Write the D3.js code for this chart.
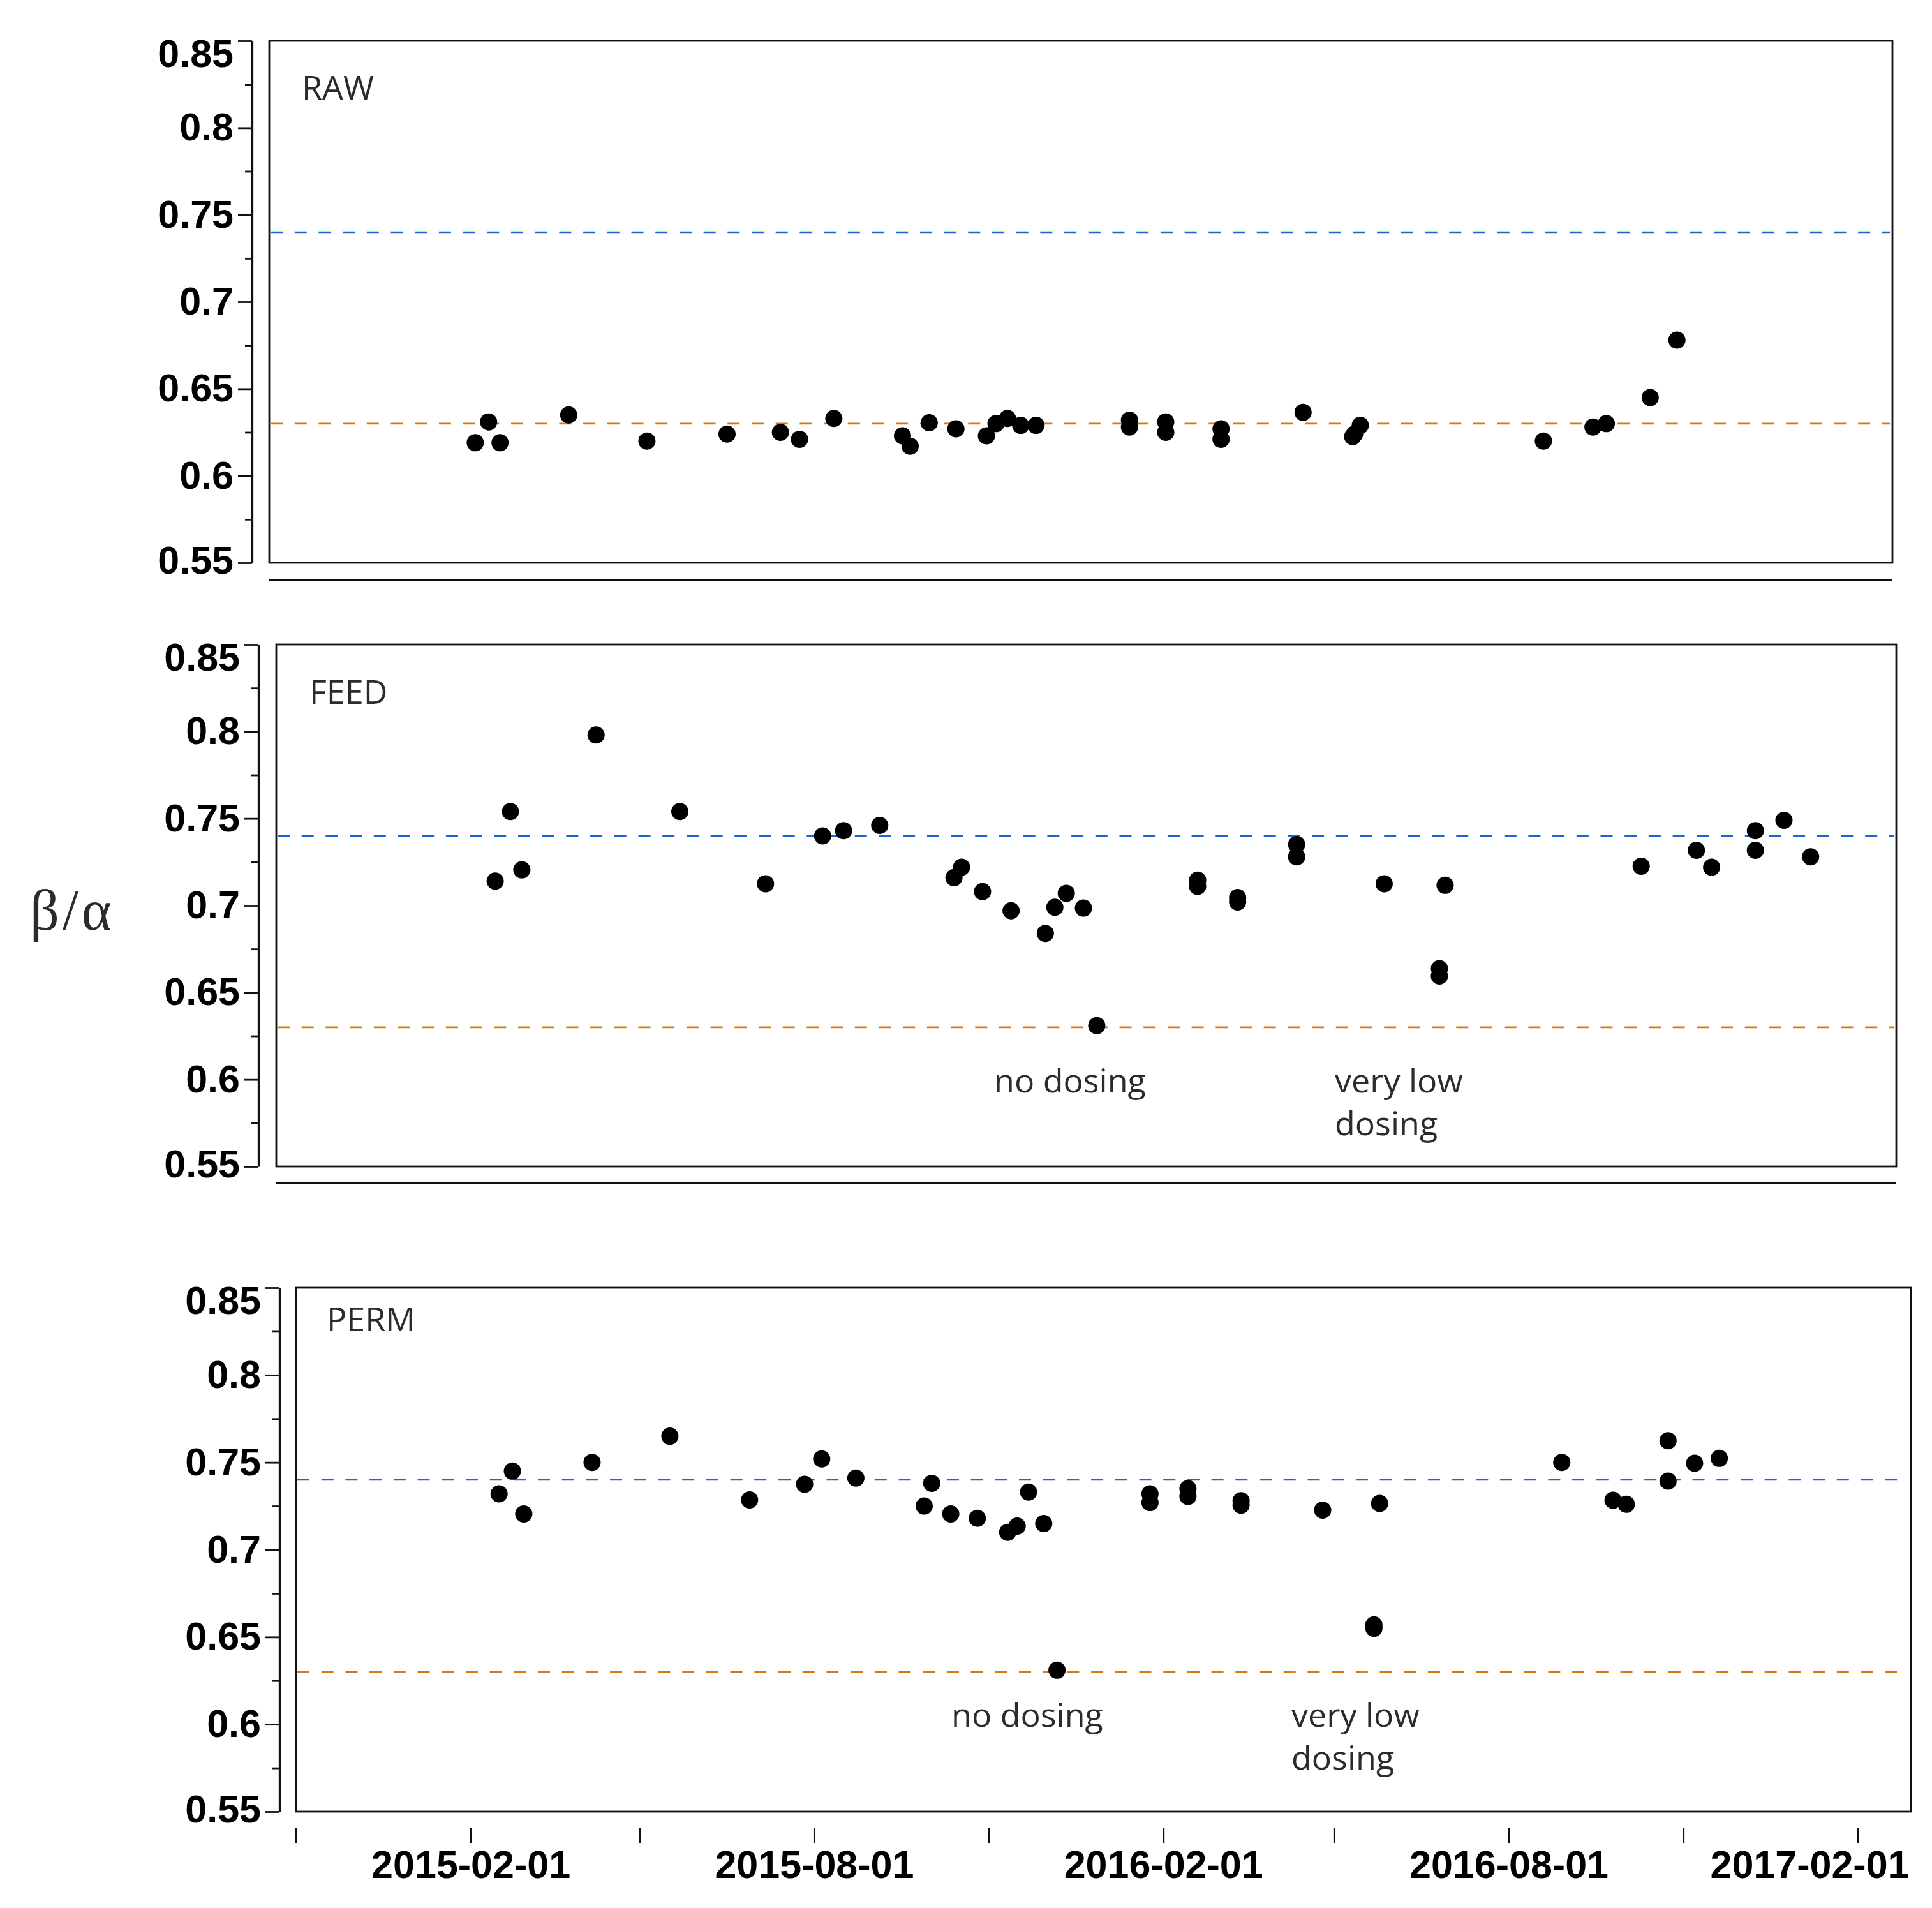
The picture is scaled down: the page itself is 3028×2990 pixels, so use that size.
<!DOCTYPE html>
<html>
<head>
<meta charset="utf-8">
<script src="https://cdn.jsdelivr.net/npm/d3@7"></script>
<style>
  html, body { margin: 0; padding: 0; background: #ffffff; }
  svg { display: block; }
</style>
</head>
<body>
<svg id="chart" width="3028" height="2990"></svg>
<script>
// ---------------- DATA ----------------
const panelNames = ["RAW", "FEED", "PERM"];

const rawDates = ["2015-02-17","2015-02-24","2015-03-02","2015-04-07","2015-05-18","2015-06-29","2015-07-27","2015-08-06","2015-08-24","2015-09-29","2015-10-03","2015-10-13","2015-10-27","2015-11-12","2015-11-17","2015-11-23","2015-11-30","2015-12-08","2016-01-26","2016-01-26","2016-02-14","2016-02-14","2016-03-14","2016-03-14","2016-04-26","2016-05-22","2016-05-23","2016-05-26","2016-08-30","2016-09-25","2016-10-02","2016-10-25","2016-11-08"];
const rawValues = [0.619,0.631,0.619,0.635,0.620,0.624,0.625,0.621,0.633,0.623,0.617,0.6305,0.627,0.623,0.630,0.633,0.629,0.629,0.632,0.628,0.631,0.625,0.627,0.621,0.6365,0.6225,0.624,0.629,0.620,0.628,0.630,0.645,0.678];

const feedDates = ["2015-02-24","2015-03-04","2015-03-10","2015-04-18","2015-06-01","2015-07-16","2015-08-15","2015-08-26","2015-09-14","2015-10-23","2015-10-27","2015-11-07","2015-11-22","2015-12-10","2015-12-15","2015-12-21","2015-12-30","2016-01-06","2016-02-28","2016-02-28","2016-03-20","2016-03-20","2016-04-20","2016-04-20","2016-06-05","2016-07-07","2016-07-04","2016-07-04","2016-10-18","2016-11-16","2016-11-24","2016-12-17","2016-12-17","2017-01-01","2017-01-15"];
const feedValues = [0.714,0.754,0.7205,0.798,0.754,0.7125,0.740,0.743,0.746,0.716,0.722,0.708,0.697,0.684,0.699,0.707,0.6985,0.631,0.7146,0.711,0.7046,0.702,0.735,0.728,0.7125,0.7116,0.6637,0.6595,0.7226,0.7317,0.722,0.743,0.7317,0.749,0.728];

const permDates = ["2015-02-16","2015-02-23","2015-03-01","2015-04-06","2015-05-17","2015-06-28","2015-07-27","2015-08-05","2015-08-23","2015-09-28","2015-10-02","2015-10-12","2015-10-26","2015-11-11","2015-11-16","2015-11-22","2015-11-30","2015-12-07","2016-01-25","2016-01-25","2016-02-14","2016-02-14","2016-03-13","2016-03-13","2016-04-25","2016-05-25","2016-05-22","2016-05-22","2016-08-29","2016-09-25","2016-10-02","2016-10-24","2016-10-24","2016-11-07","2016-11-20"];
const permValues = [0.732,0.745,0.7205,0.750,0.765,0.7285,0.7375,0.752,0.741,0.725,0.738,0.7205,0.718,0.710,0.7135,0.733,0.715,0.631,0.732,0.727,0.735,0.7305,0.728,0.7255,0.7227,0.7265,0.657,0.655,0.750,0.7283,0.726,0.7624,0.7393,0.7495,0.7523];

const refValues = [0.74, 0.63];            // blue, orange dashed reference lines
const yDomain = [0.55, 0.85];
const yTickValues = [0.55, 0.6, 0.65, 0.7, 0.75, 0.8, 0.85];
const yMinorTickValues = [0.575, 0.625, 0.675, 0.725, 0.775, 0.825];
const xDomain = ["2014-11-01", "2017-03-01"];
const xTickDates = ["2014-11-01","2015-02-01","2015-05-01","2015-08-01","2015-11-01","2016-02-01","2016-05-01","2016-08-01","2016-11-01","2017-02-01"];
const xLabelDates = ["2015-02-01","2015-08-01","2016-02-01","2016-08-01","2017-02-01"];
const annotationTexts = [["no dosing"], ["very low", "dosing"]];
const yAxisTitle = "β/α";

// ---------------- LAYOUT ----------------
const parse = d3.timeParse("%Y-%m-%d");
const fmt = d3.timeFormat("%Y-%m-%d");
const refColors = ["#1a64d6", "#d8790f"];
const tickFont = "'Liberation Sans', Arial, Helvetica, sans-serif";
const textFont = "'Open Sans', 'Noto Sans', sans-serif";

const layouts = [
  { x0: 422, x1: 2966, y0: 64,   y1: 882,  axisX: 395, underY: 909,  label: [473, 156],  annot: null },
  { x0: 433, x1: 2972, y0: 1010, y1: 1828, axisX: 405, underY: 1854, label: [485, 1103],
    annot: [[1558, 1712], [2092, 1712]] },
  { x0: 464, x1: 2995, y0: 2018, y1: 2839, axisX: 438, underY: null, label: [512, 2086],
    annot: [[1491, 2706], [2024, 2706]] }
];
const seriesDates = [rawDates, feedDates, permDates];
const seriesValues = [rawValues, feedValues, permValues];

const svg = d3.select("#chart");

layouts.forEach((L, i) => {
  const x = d3.scaleTime().domain(xDomain.map(parse)).range([L.x0, L.x1]);
  const y = d3.scaleLinear().domain(yDomain).range([L.y1, L.y0]);
  const g = svg.append("g");

  // reference dashed lines
  refValues.forEach((v, k) => {
    g.append("line")
      .attr("x1", L.x0 + 2).attr("x2", L.x1 - 4)
      .attr("y1", y(v)).attr("y2", y(v))
      .attr("stroke", refColors[k]).attr("stroke-width", 2.6)
      .attr("stroke-dasharray", "19,18.7");
  });

  // frame
  g.append("rect")
    .attr("x", L.x0).attr("y", L.y0)
    .attr("width", L.x1 - L.x0).attr("height", L.y1 - L.y0)
    .attr("fill", "none").attr("stroke", "#111").attr("stroke-width", 2.8);

  if (L.underY !== null) {
    g.append("line")
      .attr("x1", L.x0).attr("x2", L.x1)
      .attr("y1", L.underY).attr("y2", L.underY)
      .attr("stroke", "#111").attr("stroke-width", 3);
  }

  // y axis (major)
  const ya = g.append("g").attr("transform", `translate(${L.axisX},0)`)
    .call(d3.axisLeft(y).tickValues(yTickValues).tickSize(22).tickSizeOuter(0).tickPadding(7)
      .tickFormat(d => String(+d.toFixed(2))));
  ya.select(".domain").attr("stroke", "#111").attr("stroke-width", 3.3);
  ya.selectAll(".tick line").attr("stroke", "#111").attr("stroke-width", 2.8);
  ya.selectAll(".tick text")
    .attr("font-family", tickFont).attr("font-weight", "bold").attr("font-size", 61)
    .attr("fill", "#000")
    .attr("y", d => (Math.abs(d - 0.85) < 1e-9 ? 21 : (Math.abs(d - 0.55) < 1e-9 ? -3 : 0)));

  // y axis (minor)
  const ym = g.append("g").attr("transform", `translate(${L.axisX},0)`)
    .call(d3.axisLeft(y).tickValues(yMinorTickValues).tickSize(11).tickSizeOuter(0).tickFormat(""));
  ym.select(".domain").remove();
  ym.selectAll(".tick line").attr("stroke", "#111").attr("stroke-width", 2.8);

  // panel label
  g.append("text")
    .attr("x", L.label[0]).attr("y", L.label[1])
    .attr("font-family", textFont).attr("font-size", 52).attr("fill", "#2b2b2b")
    .text(panelNames[i]);

  // annotations
  if (L.annot) {
    L.annot.forEach((p, k) => {
      const t = g.append("text")
        .attr("x", p[0]).attr("y", p[1])
        .attr("font-family", textFont).attr("font-size", 52).attr("fill", "#2b2b2b");
      annotationTexts[k].forEach((line, j) => {
        t.append("tspan").attr("x", p[0]).attr("dy", j === 0 ? 0 : 67).text(line);
      });
    });
  }

  // points
  const pts = seriesDates[i].map((d, k) => ({ date: parse(d), value: seriesValues[i][k] }));
  g.selectAll("circle.pt").data(pts).join("circle")
    .attr("class", "pt")
    .attr("cx", d => x(d.date)).attr("cy", d => y(d.value))
    .attr("r", 13.5).attr("fill", "#000");

  // x axis only on the bottom panel
  if (i === 2) {
    const labelSet = new Set(xLabelDates);
    const xa = g.append("g").attr("transform", `translate(0,${L.y1 + 26})`)
      .call(d3.axisBottom(x).tickValues(xTickDates.map(parse)).tickSize(23).tickPadding(12)
        .tickFormat(d => labelSet.has(fmt(d)) ? fmt(d) : ""));
    xa.select(".domain").remove();
    xa.selectAll(".tick line").attr("stroke", "#111").attr("stroke-width", 3);
    xa.selectAll(".tick text")
      .attr("font-family", tickFont).attr("font-weight", "bold").attr("font-size", 61)
      .attr("fill", "#000");
    // keep the last label inside the frame
    xa.selectAll(".tick").each(function(d) {
      const txt = d3.select(this).select("text");
      const node = txt.node();
      if (!node || !txt.text()) return;
      const w = node.getComputedTextLength();
      const tx = x(d);
      if (tx + w / 2 > L.x1) {
        txt.attr("text-anchor", "end").attr("x", L.x1 - 3 - tx);
      }
    });
  }
});

// shared y title
svg.append("text")
  .attr("x", 47).attr("y", 1457)
  .attr("font-family", "'Liberation Serif', 'DejaVu Serif', serif")
  .attr("font-size", 90).attr("letter-spacing", 5).attr("fill", "#2b2b2b")
  .text(yAxisTitle);
</script>
</body>
</html>
